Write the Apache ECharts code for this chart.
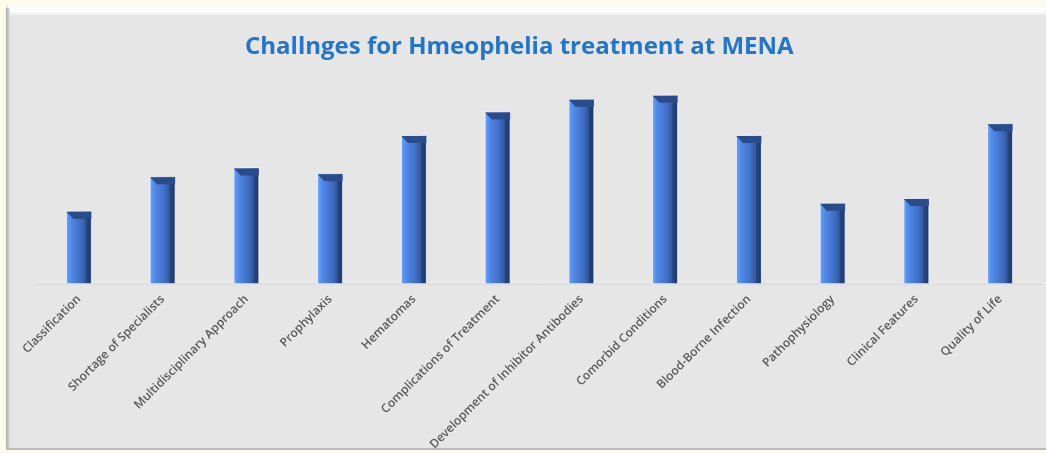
<!DOCTYPE html>
<html>
<head>
<meta charset="utf-8">
<script src="https://cdn.jsdelivr.net/npm/echarts@6/dist/echarts.min.js"></script>
<style>
    html, body { margin: 0; padding: 0; background: #fffbea; }
    #chart { width: 1046px; height: 453px; }
</style>
</head>
<body>
<div id="chart"></div>
<script>
    // categories and values (no value axis is shown)
    const categories = [
        'Classification', 'Shortage of Specialists', 'Multidisciplinary Approach',
        'Prophylaxis', 'Hematomas', 'Complications of Treatment',
        'Development of Inhibitor Antibodies', 'Comorbid Conditions',
        'Blood-Borne Infection', 'Pathophysiology', 'Clinical Features', 'Quality of Life'
    ];
    const values = [37.5, 55, 59.5, 56.5, 76, 88, 94.5, 96.5, 76, 41.5, 44, 82];
    const titleText = 'Challnges for Hmeophelia treatment at MENA';

    const chart = echarts.init(document.getElementById('chart'));

    // horizontal shading to fake the bevelled 3D bar look
    const barColor = new echarts.graphic.LinearGradient(0, 0, 1, 0, [
        { offset: 0, color: '#66a4ff' },
        { offset: 0.2, color: '#5089e8' },
        { offset: 0.55, color: '#4170c6' },
        { offset: 0.75, color: '#335aa0' },
        { offset: 0.8, color: '#26457f' },
        { offset: 1, color: '#1d3768' }
    ]);

    chart.setOption({
        backgroundColor: 'transparent',
        animation: false,
        graphic: [
            // panel
            { type: 'rect', z: -10, shape: { x: 6, y: 5, width: 1040, height: 445 }, style: { fill: '#e6e6e6' } },
            { type: 'rect', z: -9, shape: { x: 8, y: 5, width: 1038, height: 10 },
              style: { fill: new echarts.graphic.LinearGradient(0, 0, 0, 1, [
                  { offset: 0, color: '#f4f4f4' }, { offset: 0.4, color: '#ffffff' }, { offset: 1, color: '#f0f0f0' }]) } },
            { type: 'rect', z: -9, shape: { x: 6, y: 8, width: 4, height: 442 },
              style: { fill: new echarts.graphic.LinearGradient(0, 0, 1, 0, [
                  { offset: 0, color: '#a9a9a9' }, { offset: 1, color: '#e3e3e3' }]) } },
            { type: 'rect', z: -9, shape: { x: 6, y: 448, width: 1040, height: 2 }, style: { fill: '#b9b9b9' } }
        ],
        title: {
            text: titleText,
            left: 240,
            top: 30,
            textStyle: {
                fontFamily: 'Open Sans',
                fontWeight: 'bold',
                fontSize: 24,
                color: '#2176cc'
            }
        },
        grid: { left: 37, right: 4, top: 88, bottom: 165 },
        xAxis: {
            type: 'category',
            data: categories,
            axisLine: { lineStyle: { color: '#d9d9d9', width: 1 } },
            axisTick: { show: false },
            axisLabel: {
                interval: 0,
                rotate: 45,
                margin: 13,
                fontFamily: 'Open Sans',
                fontWeight: 600,
                fontSize: 12,
                color: '#595959'
            }
        },
        yAxis: {
            type: 'value',
            min: 0,
            max: 100,
            show: false,
            splitLine: { show: false }
        },
        series: [
            {
                type: 'bar',
                data: values,
                barWidth: 26,
                barGap: '-100%',
                itemStyle: {
                    color: barColor,
                    borderColor: 'rgba(245,245,250,0.8)',
                    borderWidth: 1
                }
            },
            {
                // dark top bevel of each bar
                type: 'pictorialBar',
                data: values,
                barGap: '-100%',
                symbol: 'path://M0,0 L26,0 L26,7 L7,7 Z',
                symbolSize: [25, 7],
                symbolPosition: 'end',
                symbolOffset: [0, 1],
                z: 3,
                itemStyle: { color: '#2b4c8a' },
                silent: true
            }
        ]
    });
</script>
</body>
</html>
